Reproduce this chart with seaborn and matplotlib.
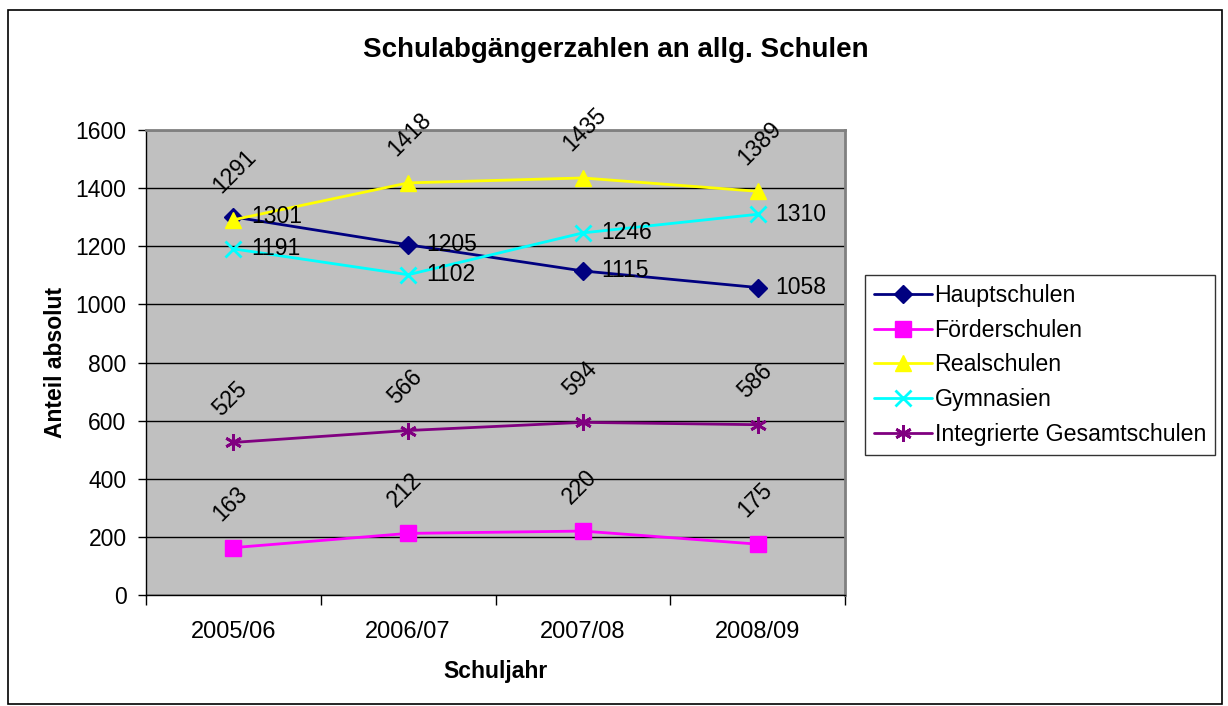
import pandas as pd
import matplotlib.pyplot as plt
import seaborn as sns
from matplotlib.patches import Rectangle

# Daten
jahre = ['2005/06', '2006/07', '2007/08', '2008/09']
hauptschulen = [1301, 1205, 1115, 1058]
foerderschulen = [163, 212, 220, 175]
realschulen = [1291, 1418, 1435, 1389]
gymnasien = [1191, 1102, 1246, 1310]
gesamtschulen = [525, 566, 594, 586]

serien = {
    'Hauptschulen': hauptschulen,
    'Förderschulen': foerderschulen,
    'Realschulen': realschulen,
    'Gymnasien': gymnasien,
    'Integrierte Gesamtschulen': gesamtschulen,
}

farben = {'Hauptschulen': '#000080', 'Förderschulen': '#FF00FF', 'Realschulen': '#FFFF00',
          'Gymnasien': '#00FFFF', 'Integrierte Gesamtschulen': '#800080'}
marker = {'Hauptschulen': 'D', 'Förderschulen': 's', 'Realschulen': '^',
          'Gymnasien': 'x', 'Integrierte Gesamtschulen': (6, 2, 0)}
groesse = {'Hauptschulen': 9, 'Förderschulen': 11, 'Realschulen': 11,
           'Gymnasien': 11, 'Integrierte Gesamtschulen': 12}
# Beschriftung waagerecht rechts oder schräg oben
schraeg = {'Hauptschulen': False, 'Förderschulen': True, 'Realschulen': True,
           'Gymnasien': False, 'Integrierte Gesamtschulen': True}

rows = []
for name, werte in serien.items():
    for j, w in zip(jahre, werte):
        rows.append({'Schuljahr': j, 'Anzahl': w, 'Schulart': name})
df = pd.DataFrame(rows)

sns.set_style('white')
plt.rcParams['font.family'] = ['Liberation Sans', 'DejaVu Sans']
plt.rcParams['text.color'] = 'black'
plt.rcParams['axes.labelcolor'] = 'black'
plt.rcParams['xtick.color'] = 'black'
plt.rcParams['ytick.color'] = 'black'

fig = plt.figure(figsize=(12.28, 7.06), dpi=100)
ax = fig.add_axes([146 / 1228, 1 - 595 / 706, 699 / 1228, 465 / 706])
ax.set_facecolor('#C0C0C0')

for name in serien:
    d = df[df['Schulart'] == name]
    sns.lineplot(data=d, x='Schuljahr', y='Anzahl', ax=ax, color=farben[name],
                 marker=marker[name], markersize=groesse[name], linewidth=2,
                 markeredgecolor=farben[name], markeredgewidth=2 if name in ('Gymnasien', 'Integrierte Gesamtschulen') else 1,
                 label=name)
    for i, w in enumerate(serien[name]):
        if schraeg[name]:
            ax.annotate(str(w), (i, w), xytext=(-6, 16), textcoords='offset points',
                        rotation=45, rotation_mode='anchor', ha='left', va='bottom', fontsize=16.5)
        else:
            ax.annotate(str(w), (i, w), xytext=(13, 0), textcoords='offset points',
                        ha='left', va='center', fontsize=16.5)

ax.set_xlim(-0.5, 3.5)
ax.set_ylim(0, 1600)
ax.set_yticks(range(0, 1601, 200))
ax.set_xticks([-0.5, 0.5, 1.5, 2.5, 3.5])
ax.set_xticklabels([])
ax.set_xticks(range(4), minor=True)
ax.set_xticklabels(jahre, minor=True)
ax.tick_params(axis='x', which='major', direction='out', length=7, width=1, color='black', bottom=True)
ax.tick_params(axis='x', which='minor', length=0, labelsize=17, pad=19)
ax.tick_params(axis='y', direction='out', length=6, width=1, color='black', left=True, labelsize=16.5, pad=8)
ax.grid(True, axis='y', color='black', linewidth=1)
ax.set_axisbelow(True)

for s in ['top', 'right']:
    ax.spines[s].set_color('#808080')
    ax.spines[s].set_linewidth(2)
for s in ['left', 'bottom']:
    ax.spines[s].set_color('black')
    ax.spines[s].set_linewidth(1)

ax.set_xlabel('Schuljahr', fontsize=16.5, fontweight='bold', labelpad=12)
ax.set_ylabel('Anteil absolut', fontsize=16.5, fontweight='bold', labelpad=6)
fig.text(616 / 1228, 1 - 50 / 706, 'Schulabgängerzahlen an allg. Schulen',
         ha='center', va='center', fontsize=20, fontweight='bold')

handles, labels = ax.get_legend_handles_labels()
if ax.get_legend():
    ax.get_legend().remove()
leg = fig.legend(handles, labels, loc='upper left', bbox_to_anchor=(865 / 1228, 1 - 275 / 706),
                 fontsize=16.7, frameon=True, fancybox=False, edgecolor='black',
                 handlelength=2.5, handletextpad=0.1, labelspacing=0.5, borderpad=0.4,
                 borderaxespad=0)
leg.get_frame().set_linewidth(1)

fig.patches.append(Rectangle((8 / 1228, 2 / 706), 1214 / 1228, 694 / 706, transform=fig.transFigure,
                             fill=False, edgecolor='black', linewidth=1.2))

fig.savefig('out.png', dpi=100)
